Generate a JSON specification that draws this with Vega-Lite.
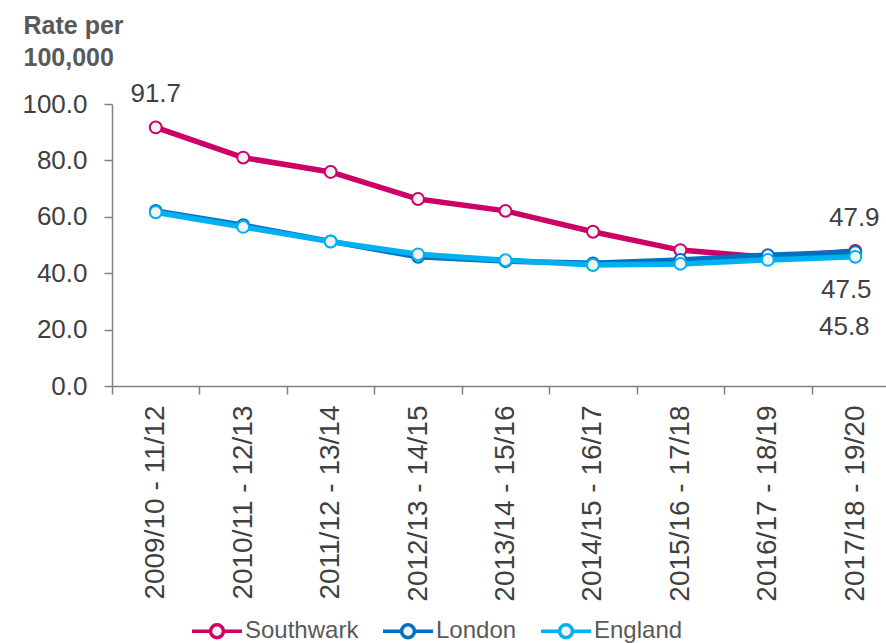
{
  "$schema": "https://vega.github.io/schema/vega-lite/v6.json",
  "width": 787,
  "height": 282,
  "autosize": {"type": "none"},
  "padding": {"left": 112, "top": 104, "right": 0, "bottom": 257},
  "config": {
    "font": "Liberation Sans",
    "view": {"stroke": null},
    "axis": {
      "grid": false,
      "labelFont": "Liberation Sans",
      "labelFontSize": 26,
      "labelColor": "#404040",
      "tickSize": 8,
      "tickColor": "#808080",
      "tickWidth": 1.5,
      "domainColor": "#808080",
      "domainWidth": 1.5
    }
  },
  "data": {
    "values": [
      {"period": "2009/10 - 11/12", "series": "Southwark", "value": 91.7},
      {"period": "2010/11 - 12/13", "series": "Southwark", "value": 81.0},
      {"period": "2011/12 - 13/14", "series": "Southwark", "value": 75.9},
      {"period": "2012/13 - 14/15", "series": "Southwark", "value": 66.3},
      {"period": "2013/14 - 15/16", "series": "Southwark", "value": 62.1},
      {"period": "2014/15 - 16/17", "series": "Southwark", "value": 54.7},
      {"period": "2015/16 - 17/18", "series": "Southwark", "value": 48.2},
      {"period": "2016/17 - 18/19", "series": "Southwark", "value": 45.6},
      {"period": "2017/18 - 19/20", "series": "Southwark", "value": 47.9},
      {"period": "2009/10 - 11/12", "series": "London", "value": 62.1},
      {"period": "2010/11 - 12/13", "series": "London", "value": 57.0},
      {"period": "2011/12 - 13/14", "series": "London", "value": 51.3},
      {"period": "2012/13 - 14/15", "series": "London", "value": 45.8},
      {"period": "2013/14 - 15/16", "series": "London", "value": 44.3},
      {"period": "2014/15 - 16/17", "series": "London", "value": 43.5},
      {"period": "2015/16 - 17/18", "series": "London", "value": 44.7},
      {"period": "2016/17 - 18/19", "series": "London", "value": 46.4},
      {"period": "2017/18 - 19/20", "series": "London", "value": 47.5},
      {"period": "2009/10 - 11/12", "series": "England", "value": 61.6},
      {"period": "2010/11 - 12/13", "series": "England", "value": 56.4},
      {"period": "2011/12 - 13/14", "series": "England", "value": 51.2},
      {"period": "2012/13 - 14/15", "series": "England", "value": 46.7},
      {"period": "2013/14 - 15/16", "series": "England", "value": 44.6},
      {"period": "2014/15 - 16/17", "series": "England", "value": 42.9},
      {"period": "2015/16 - 17/18", "series": "England", "value": 43.3},
      {"period": "2016/17 - 18/19", "series": "England", "value": 44.7},
      {"period": "2017/18 - 19/20", "series": "England", "value": 45.8}
    ]
  },
  "encoding": {
    "x": {
      "field": "period",
      "type": "ordinal",
      "sort": null,
      "scale": {"type": "band", "paddingInner": 0, "paddingOuter": 0},
      "axis": {"title": null, "labelAngle": -90, "tickBand": "extent", "labelPadding": 11, "labelFontSize": 28, "labelLimit": 0}
    },
    "y": {
      "field": "value",
      "type": "quantitative",
      "scale": {"domain": [0, 100]},
      "axis": {
        "values": [0, 20, 40, 60, 80, 100],
        "format": ".1f",
        "labelPadding": 17,
        "title": ["Rate per", "100,000"],
        "titleAngle": 0,
        "titleAlign": "left",
        "titleBaseline": "top",
        "titleX": -89,
        "titleY": -91,
        "titleFont": "Liberation Sans",
        "titleFontSize": 25,
        "titleFontWeight": "bold",
        "titleColor": "#595959",
        "titleLineHeight": 32
      }
    }
  },
  "layer": [
    {
      "encoding": {
        "stroke": {
          "field": "series",
          "type": "nominal",
          "scale": {"domain": ["Southwark", "London", "England"], "range": ["#CC0066", "#0070C0", "#00B0F0"]},
          "legend": {
            "orient": "none",
            "legendX": 78,
            "legendY": 500,
            "direction": "horizontal",
            "title": null,
            "symbolType": "M-1,0L-0.26,0M0.26,0L1,0M-0.26,0A0.26,0.26 0 1,0 0.26,0A0.26,0.26 0 1,0 -0.26,0Z",
            "symbolSize": 2500,
            "symbolStrokeWidth": 3.5,
            "symbolFillColor": "#F2F2F2",
            "symbolOpacity": 1,
            "labelFont": "Liberation Sans",
            "labelFontSize": 24,
            "labelColor": "#595959",
            "labelOffset": 1,
            "columnPadding": 17
          }
        }
      },
      "layer": [
        {"transform": [{"filter": "datum.series === 'Southwark'"}], "mark": {"type": "line", "strokeWidth": 5.5}},
        {"transform": [{"filter": "datum.series === 'Southwark'"}], "mark": {"type": "point", "shape": "circle", "filled": true, "fill": "#F2F2F2", "size": 140, "strokeWidth": 2, "opacity": 1}},
        {"transform": [{"filter": "datum.series === 'London'"}], "mark": {"type": "line", "strokeWidth": 5.5}},
        {"transform": [{"filter": "datum.series === 'London'"}], "mark": {"type": "point", "shape": "circle", "filled": true, "fill": "#F2F2F2", "size": 140, "strokeWidth": 2, "opacity": 1}},
        {"transform": [{"filter": "datum.series === 'England'"}], "mark": {"type": "line", "strokeWidth": 5.5}},
        {"transform": [{"filter": "datum.series === 'England'"}], "mark": {"type": "point", "shape": "circle", "filled": true, "fill": "#F2F2F2", "size": 140, "strokeWidth": 2, "opacity": 1}}
      ]
    },
    {
      "transform": [{"filter": "datum.series === 'Southwark' && datum.period === '2009/10 - 11/12'"}],
      "mark": {"type": "text", "dy": -33, "fontSize": 26, "color": "#404040", "font": "Liberation Sans"},
      "encoding": {"text": {"field": "value", "type": "quantitative", "format": ".1f"}}
    },
    {
      "transform": [{"filter": "datum.series === 'Southwark' && datum.period === '2017/18 - 19/20'"}],
      "mark": {"type": "text", "dy": -33, "dx": -1, "fontSize": 26, "color": "#404040", "font": "Liberation Sans"},
      "encoding": {"text": {"field": "value", "type": "quantitative", "format": ".1f"}}
    },
    {
      "transform": [{"filter": "datum.series === 'London' && datum.period === '2017/18 - 19/20'"}],
      "mark": {"type": "text", "dy": 38, "dx": -9, "fontSize": 26, "color": "#404040", "font": "Liberation Sans"},
      "encoding": {"text": {"field": "value", "type": "quantitative", "format": ".1f"}}
    },
    {
      "transform": [{"filter": "datum.series === 'England' && datum.period === '2017/18 - 19/20'"}],
      "mark": {"type": "text", "dy": 70, "dx": -11, "fontSize": 26, "color": "#404040", "font": "Liberation Sans"},
      "encoding": {"text": {"field": "value", "type": "quantitative", "format": ".1f"}}
    }
  ]
}
